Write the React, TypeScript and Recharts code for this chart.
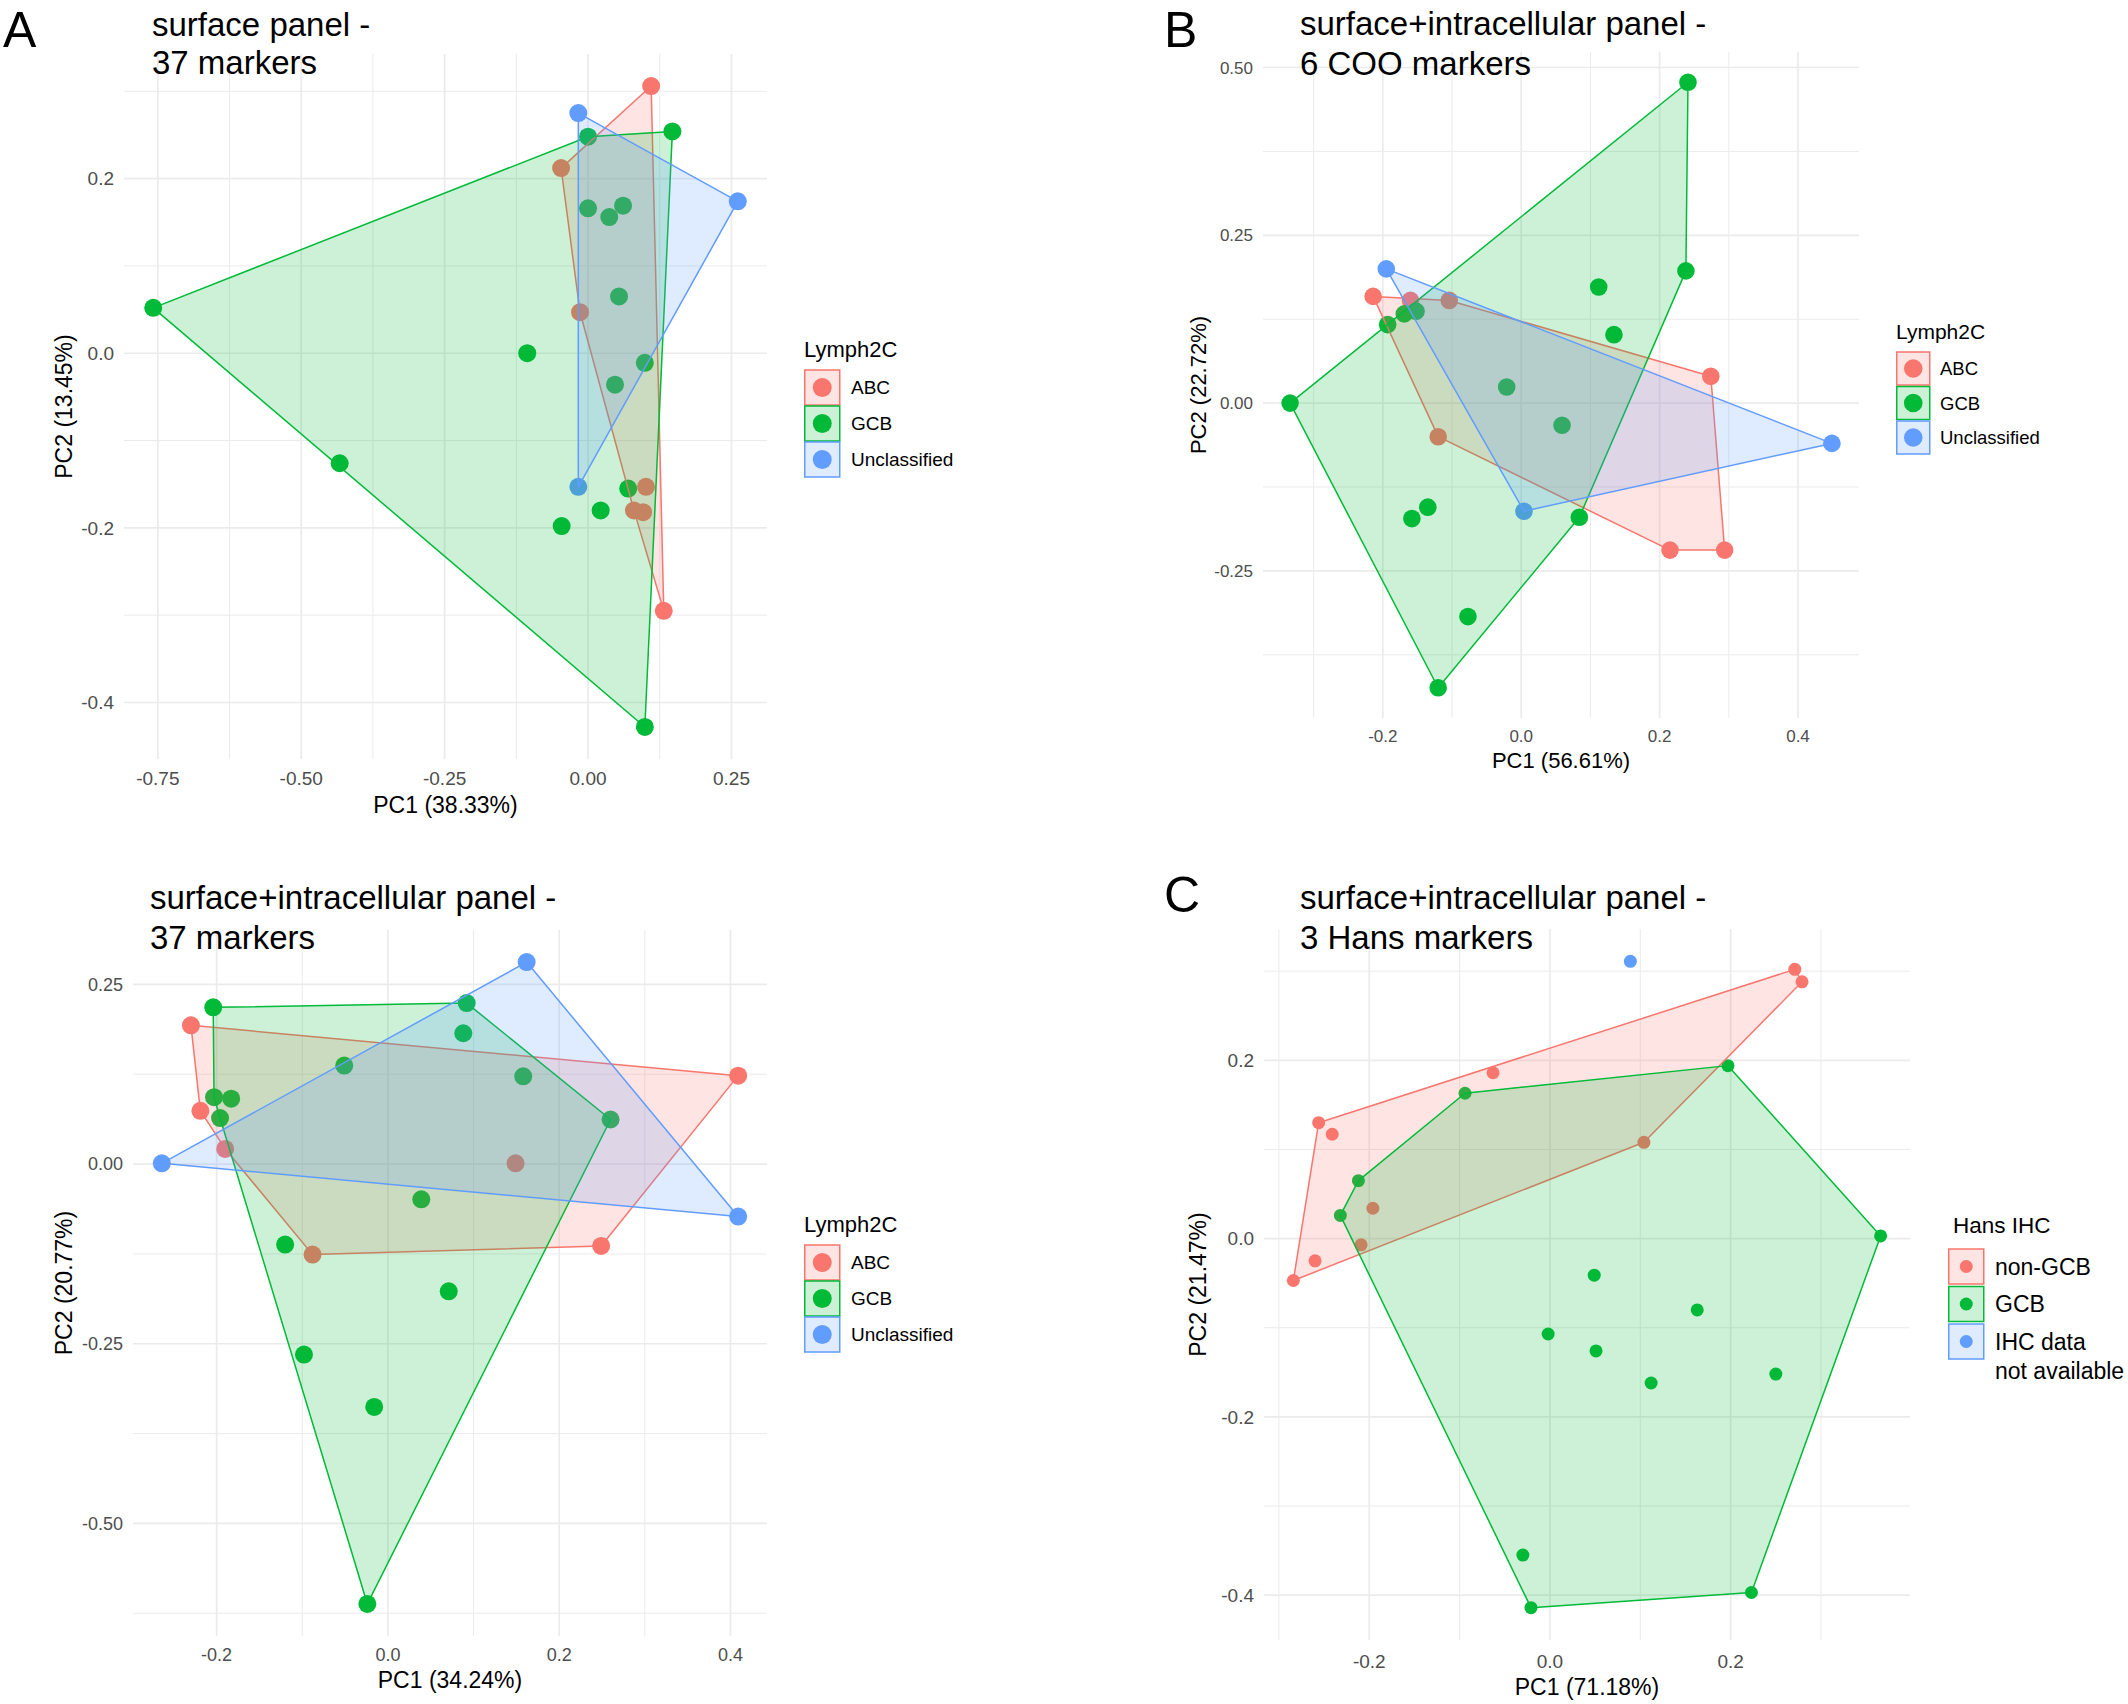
import React from 'react';
import { ScatterChart, Scatter, XAxis, YAxis, CartesianGrid, Legend } from 'recharts';

const RED = '#F8766D';
const GREEN = '#00BA38';
const BLUE = '#619CFF';
const FONT = '"Liberation Sans", Arial, Helvetica, sans-serif';
const GRID = '#EBEBEB';

type Pt = { x: number; y: number };

// A: surface panel - 37 markers (Lymph2C)
const surfAbc: Pt[] = [
  { x: 0.110, y: 0.306 }, { x: -0.047, y: 0.212 }, { x: -0.014, y: 0.047 }, { x: 0.101, y: -0.153 },
  { x: 0.080, y: -0.180 }, { x: 0.096, y: -0.182 }, { x: 0.132, y: -0.295 },
];
const surfGcb: Pt[] = [
  { x: -0.758, y: 0.052 }, { x: 0.000, y: 0.248 }, { x: 0.147, y: 0.254 }, { x: 0.000, y: 0.166 },
  { x: 0.037, y: 0.156 }, { x: 0.061, y: 0.169 }, { x: 0.054, y: 0.065 }, { x: -0.106, y: 0.000 },
  { x: 0.099, y: -0.011 }, { x: 0.047, y: -0.036 }, { x: -0.433, y: -0.126 }, { x: 0.070, y: -0.155 },
  { x: 0.022, y: -0.180 }, { x: -0.046, y: -0.198 }, { x: 0.099, y: -0.428 },
];
const surfUnc: Pt[] = [{ x: -0.017, y: 0.275 }, { x: 0.261, y: 0.174 }, { x: -0.017, y: -0.153 }];
const surfXTicks = [-0.75, -0.5, -0.25, 0, 0.25];
const surfXLabels = ['-0.75', '-0.50', '-0.25', '0.00', '0.25'];
const surfXMinor = [-0.625, -0.375, -0.125, 0.125];
const surfYTicks = [-0.4, -0.2, 0, 0.2];
const surfYLabels = ['-0.4', '-0.2', '0.0', '0.2'];
const surfYMinor = [-0.3, -0.1, 0.1, 0.3];

// B: surface+intracellular panel - 6 COO markers (Lymph2C)
const cooAbc: Pt[] = [
  { x: -0.214, y: 0.159 }, { x: -0.160, y: 0.153 }, { x: -0.104, y: 0.153 }, { x: -0.120, y: -0.050 },
  { x: 0.274, y: 0.040 }, { x: 0.215, y: -0.219 }, { x: 0.294, y: -0.219 },
];
const cooGcb: Pt[] = [
  { x: -0.334, y: 0.000 }, { x: 0.241, y: 0.478 }, { x: 0.238, y: 0.197 }, { x: 0.112, y: 0.173 },
  { x: 0.134, y: 0.102 }, { x: -0.193, y: 0.117 }, { x: -0.169, y: 0.133 }, { x: -0.152, y: 0.137 },
  { x: -0.021, y: 0.024 }, { x: 0.059, y: -0.033 }, { x: -0.135, y: -0.155 }, { x: -0.158, y: -0.172 },
  { x: 0.084, y: -0.170 }, { x: -0.077, y: -0.318 }, { x: -0.120, y: -0.424 },
];
const cooUnc: Pt[] = [{ x: -0.195, y: 0.200 }, { x: 0.449, y: -0.060 }, { x: 0.004, y: -0.161 }];
const cooXTicks = [-0.2, 0, 0.2, 0.4];
const cooXLabels = ['-0.2', '0.0', '0.2', '0.4'];
const cooXMinor = [-0.3, -0.1, 0.1, 0.3];
const cooYTicks = [-0.25, 0, 0.25, 0.5];
const cooYLabels = ['-0.25', '0.00', '0.25', '0.50'];
const cooYMinor = [-0.375, -0.125, 0.125, 0.375];

// surface+intracellular panel - 37 markers (Lymph2C)
const allAbc: Pt[] = [
  { x: -0.230, y: 0.193 }, { x: -0.219, y: 0.074 }, { x: -0.190, y: 0.021 }, { x: -0.088, y: -0.126 },
  { x: 0.149, y: 0.001 }, { x: 0.249, y: -0.114 }, { x: 0.409, y: 0.123 },
];
const allGcb: Pt[] = [
  { x: -0.204, y: 0.218 }, { x: 0.092, y: 0.224 }, { x: 0.088, y: 0.182 }, { x: -0.051, y: 0.137 },
  { x: 0.158, y: 0.122 }, { x: -0.203, y: 0.093 }, { x: -0.183, y: 0.091 }, { x: -0.196, y: 0.064 },
  { x: 0.260, y: 0.062 }, { x: 0.039, y: -0.049 }, { x: -0.120, y: -0.112 }, { x: 0.071, y: -0.177 },
  { x: -0.098, y: -0.265 }, { x: -0.016, y: -0.338 }, { x: -0.024, y: -0.612 },
];
const allUnc: Pt[] = [{ x: -0.264, y: 0.001 }, { x: 0.162, y: 0.281 }, { x: 0.409, y: -0.073 }];
const allXTicks = [-0.2, 0, 0.2, 0.4];
const allXLabels = ['-0.2', '0.0', '0.2', '0.4'];
const allXMinor = [-0.1, 0.1, 0.3];
const allYTicks = [-0.5, -0.25, 0, 0.25];
const allYLabels = ['-0.50', '-0.25', '0.00', '0.25'];
const allYMinor = [-0.625, -0.375, -0.125, 0.125];

// C: surface+intracellular panel - 3 Hans markers (Hans IHC)
const hansNonGcb: Pt[] = [
  { x: 0.271, y: 0.302 }, { x: 0.279, y: 0.288 }, { x: -0.063, y: 0.186 }, { x: -0.256, y: 0.130 },
  { x: -0.241, y: 0.117 }, { x: 0.104, y: 0.108 }, { x: -0.196, y: 0.034 }, { x: -0.209, y: -0.007 },
  { x: -0.260, y: -0.025 }, { x: -0.284, y: -0.047 },
];
const hansGcb: Pt[] = [
  { x: -0.094, y: 0.163 }, { x: 0.197, y: 0.194 }, { x: -0.212, y: 0.065 }, { x: -0.232, y: 0.026 },
  { x: 0.366, y: 0.003 }, { x: 0.049, y: -0.041 }, { x: 0.163, y: -0.080 }, { x: -0.002, y: -0.107 },
  { x: 0.051, y: -0.126 }, { x: 0.112, y: -0.162 }, { x: 0.250, y: -0.152 }, { x: -0.030, y: -0.355 },
  { x: -0.021, y: -0.414 }, { x: 0.223, y: -0.397 },
];
const hansNa: Pt[] = [{ x: 0.089, y: 0.311 }];
const hansXTicks = [-0.2, 0, 0.2];
const hansXLabels = ['-0.2', '0.0', '0.2'];
const hansXMinor = [-0.3, -0.1, 0.1, 0.3];
const hansYTicks = [-0.4, -0.2, 0, 0.2];
const hansYLabels = ['-0.4', '-0.2', '0.0', '0.2'];
const hansYMinor = [-0.3, -0.1, 0.1, 0.3];

// convex hull (monotone chain)
function hull(pts: Pt[]): Pt[] {
  const p = [...pts].sort((a, b) => a.x - b.x || a.y - b.y);
  if (p.length < 3) return [];
  const cross = (o: Pt, a: Pt, b: Pt) => (a.x - o.x) * (b.y - o.y) - (a.y - o.y) * (b.x - o.x);
  const lower: Pt[] = [];
  for (const q of p) {
    while (lower.length >= 2 && cross(lower[lower.length - 2], lower[lower.length - 1], q) <= 0) lower.pop();
    lower.push(q);
  }
  const upper: Pt[] = [];
  for (const q of [...p].reverse()) {
    while (upper.length >= 2 && cross(upper[upper.length - 2], upper[upper.length - 1], q) <= 0) upper.pop();
    upper.push(q);
  }
  lower.pop();
  upper.pop();
  return lower.concat(upper);
}

// ggplot-like 5% expansion
function expand(vals: number[]): [number, number] {
  const lo = Math.min(...vals);
  const hi = Math.max(...vals);
  const pad = (hi - lo) * 0.05;
  return [lo - pad, hi + pad];
}

const panels = [
  {
    key: 'A', letter: 'A', letterX: 3, letterY: 47,
    title: ['surface panel -', '37 markers'], titleX: 152, titleY: [36, 74],
    box: { x: 0, y: 0, w: 1064, h: 852 }, plot: { l: 124, t: 54, r: 767, b: 759 },
    groups: [
      { name: 'ABC', lines: ['ABC'], color: RED, points: surfAbc },
      { name: 'GCB', lines: ['GCB'], color: GREEN, points: surfGcb },
      { name: 'Unclassified', lines: ['Unclassified'], color: BLUE, points: surfUnc },
    ],
    xTicks: surfXTicks, xLabels: surfXLabels, xMinor: surfXMinor,
    yTicks: surfYTicks, yLabels: surfYLabels, yMinor: surfYMinor,
    xTitle: 'PC1 (38.33%)', yTitle: 'PC2 (13.45%)', xTitleOff: 46, yTitleOff: 60,
    dotR: 9, tickSize: 19, titleSize: 23, xTickGap: 13,
    legend: { x: 804, y: 333, title: 'Lymph2C', titleSize: 22, labelSize: 19, key: 35, pitch: 36, keyTop: 37, labelX: 47, dotR: 9.5, titleX: 0 },
  },
  {
    key: 'B', letter: 'B', letterX: 1164, letterY: 47,
    title: ['surface+intracellular panel -', '6 COO markers'], titleX: 1300, titleY: [35, 75],
    box: { x: 1064, y: 0, w: 1064, h: 852 }, plot: { l: 1263, t: 52, r: 1859, b: 718 },
    groups: [
      { name: 'ABC', lines: ['ABC'], color: RED, points: cooAbc },
      { name: 'GCB', lines: ['GCB'], color: GREEN, points: cooGcb },
      { name: 'Unclassified', lines: ['Unclassified'], color: BLUE, points: cooUnc },
    ],
    xTicks: cooXTicks, xLabels: cooXLabels, xMinor: cooXMinor,
    yTicks: cooYTicks, yLabels: cooYLabels, yMinor: cooYMinor,
    xTitle: 'PC1 (56.61%)', yTitle: 'PC2 (22.72%)', xTitleOff: 42, yTitleOff: 65,
    dotR: 8.8, tickSize: 17, titleSize: 22, xTickGap: 12,
    legend: { x: 1896, y: 315, title: 'Lymph2C', titleSize: 21, labelSize: 18.5, key: 33, pitch: 34.5, keyTop: 37, labelX: 44, dotR: 9.3, titleX: 0 },
  },
  {
    key: 'BL', letter: '', letterX: 0, letterY: 0,
    title: ['surface+intracellular panel -', '37 markers'], titleX: 150, titleY: [909, 949],
    box: { x: 0, y: 852, w: 1064, h: 852 }, plot: { l: 133, t: 930, r: 767, b: 1636 },
    groups: [
      { name: 'ABC', lines: ['ABC'], color: RED, points: allAbc },
      { name: 'GCB', lines: ['GCB'], color: GREEN, points: allGcb },
      { name: 'Unclassified', lines: ['Unclassified'], color: BLUE, points: allUnc },
    ],
    xTicks: allXTicks, xLabels: allXLabels, xMinor: allXMinor,
    yTicks: allYTicks, yLabels: allYLabels, yMinor: allYMinor,
    xTitle: 'PC1 (34.24%)', yTitle: 'PC2 (20.77%)', xTitleOff: 44, yTitleOff: 69,
    dotR: 9, tickSize: 18, titleSize: 23, xTickGap: 12,
    legend: { x: 804, y: 1208, title: 'Lymph2C', titleSize: 22, labelSize: 19, key: 35, pitch: 36, keyTop: 37, labelX: 47, dotR: 9.5, titleX: 0 },
  },
  {
    key: 'C', letter: 'C', letterX: 1164, letterY: 912,
    title: ['surface+intracellular panel -', '3 Hans markers'], titleX: 1300, titleY: [909, 949],
    box: { x: 1064, y: 852, w: 1064, h: 852 }, plot: { l: 1264, t: 929, r: 1910, b: 1640 },
    groups: [
      { name: 'non-GCB', lines: ['non-GCB'], color: RED, points: hansNonGcb },
      { name: 'GCB', lines: ['GCB'], color: GREEN, points: hansGcb },
      { name: 'IHC data not available', lines: ['IHC data', 'not available'], color: BLUE, points: hansNa },
    ],
    xTicks: hansXTicks, xLabels: hansXLabels, xMinor: hansXMinor,
    yTicks: hansYTicks, yLabels: hansYLabels, yMinor: hansYMinor,
    xTitle: 'PC1 (71.18%)', yTitle: 'PC2 (21.47%)', xTitleOff: 47, yTitleOff: 66,
    dotR: 6.5, tickSize: 19, titleSize: 23, xTickGap: 15,
    legend: { x: 1948, y: 1209, title: 'Hans IHC', titleSize: 22.5, labelSize: 23, key: 35, pitch: 37.5, keyTop: 40, labelX: 47, dotR: 6.5, titleX: 5 },
  },
];

function LegendBlock({ cfg }: any) {
  const L = cfg.legend;
  return (
    <svg width={230} height={190} style={{ display: 'block', overflow: 'visible' }}>
      <text x={L.titleX} y={24} fontSize={L.titleSize} fontFamily={FONT} fill="#000">{L.title}</text>
      {cfg.groups.map((g: any, i: number) => {
        const top = L.keyTop + i * L.pitch;
        const mid = top + L.key / 2;
        return (
          <g key={g.name}>
            <rect x={0.75} y={top} width={L.key} height={L.key} fill={g.color} fillOpacity={0.2} stroke={g.color} strokeWidth={1.5} />
            <circle cx={0.75 + L.key / 2} cy={mid} r={L.dotR} fill={g.color} />
            {g.lines.map((line: string, j: number) => (
              <text key={line} x={L.labelX} y={mid + L.labelSize * 0.36 + j * 29} fontSize={L.labelSize} fontFamily={FONT} fill="#000">
                {line}
              </text>
            ))}
          </g>
        );
      })}
    </svg>
  );
}

function PcaPanel({ cfg }: any) {
  const { box, plot } = cfg;
  const all = cfg.groups.flatMap((g: any) => g.points);
  const xDomain = expand(all.map((p: Pt) => p.x));
  const yDomain = expand(all.map((p: Pt) => p.y));
  const tickStyle = { fill: '#4D4D4D', fontSize: cfg.tickSize, fontFamily: FONT };
  const xFmt = (v: number) => cfg.xLabels[cfg.xTicks.indexOf(v)] ?? '';
  const yFmt = (v: number) => cfg.yLabels[cfg.yTicks.indexOf(v)] ?? '';

  return (
    <div style={{ position: 'absolute', left: box.x, top: box.y }}>
      <ScatterChart
        width={box.w}
        height={box.h}
        margin={{ top: plot.t - box.y, right: box.x + box.w - plot.r, bottom: 0, left: 0 }}
      >
        <XAxis xAxisId="minor" type="number" dataKey="x" domain={xDomain} ticks={cfg.xMinor} allowDataOverflow hide />
        <YAxis yAxisId="minor" type="number" dataKey="y" domain={yDomain} ticks={cfg.yMinor} allowDataOverflow hide />
        <CartesianGrid xAxisId="minor" yAxisId="minor" stroke={GRID} strokeWidth={1} syncWithTicks />
        <CartesianGrid stroke={GRID} strokeWidth={1.7} syncWithTicks />
        <XAxis
          type="number"
          dataKey="x"
          domain={xDomain}
          ticks={cfg.xTicks}
          interval={0}
          allowDataOverflow
          tickFormatter={xFmt}
          axisLine={false}
          tickLine={false}
          tickSize={0}
          tickMargin={cfg.xTickGap}
          tick={tickStyle}
          height={box.y + box.h - plot.b}
          label={(p: any) => (
            <text
              x={p.viewBox.x + p.viewBox.width / 2}
              y={p.viewBox.y + cfg.xTitleOff}
              textAnchor="middle"
              dominantBaseline="central"
              fontSize={cfg.titleSize}
              fontFamily={FONT}
              fill="#000"
            >
              {cfg.xTitle}
            </text>
          )}
        />
        <YAxis
          type="number"
          dataKey="y"
          domain={yDomain}
          ticks={cfg.yTicks}
          interval={0}
          allowDataOverflow
          tickFormatter={yFmt}
          axisLine={false}
          tickLine={false}
          tickSize={0}
          tickMargin={10}
          tick={tickStyle}
          width={plot.l - box.x}
          label={(p: any) => {
            const cx = p.viewBox.x + p.viewBox.width - cfg.yTitleOff;
            const cy = p.viewBox.y + p.viewBox.height / 2;
            return (
              <text
                x={cx}
                y={cy}
                transform={`rotate(-90, ${cx}, ${cy})`}
                textAnchor="middle"
                dominantBaseline="central"
                fontSize={cfg.titleSize}
                fontFamily={FONT}
                fill="#000"
              >
                {cfg.yTitle}
              </text>
            );
          }}
        />
        {cfg.groups.map((g: any) => (
          <Scatter
            key={`pts-${g.name}`}
            name={g.name}
            data={g.points}
            fill={g.color}
            isAnimationActive={false}
            shape={(s: any) => <circle cx={s.cx} cy={s.cy} r={cfg.dotR} fill={g.color} />}
          />
        ))}
        {cfg.groups.map((g: any) => (
          <Scatter
            key={`hull-${g.name}`}
            name={`${g.name} hull`}
            data={hull(g.points)}
            legendType="none"
            isAnimationActive={false}
            shape={() => <g />}
            line={(lp: any) => (
              <polygon
                points={(lp.points || []).map((q: any) => `${q.x},${q.y}`).join(' ')}
                fill={g.color}
                fillOpacity={0.2}
                stroke={g.color}
                strokeWidth={1.5}
                strokeLinejoin="round"
              />
            )}
          />
        ))}
        <Legend
          layout="vertical"
          align="center"
          verticalAlign="middle"
          content={() => <LegendBlock cfg={cfg} />}
          wrapperStyle={{ left: cfg.legend.x - box.x, top: cfg.legend.y - box.y, width: 230, height: 190 }}
        />
      </ScatterChart>
    </div>
  );
}

export default function App() {
  return (
    <div style={{ position: 'relative', width: 2128, height: 1704, background: '#fff', overflow: 'hidden' }}>
      <style>{'body { margin: 0; }'}</style>
      {panels.map((cfg) => (
        <PcaPanel key={cfg.key} cfg={cfg} />
      ))}
      <svg width={2128} height={1704} style={{ position: 'absolute', left: 0, top: 0, pointerEvents: 'none' }}>
        {panels.map((cfg) => (
          <g key={cfg.key} fontFamily={FONT} fill="#000">
            {cfg.letter && (
              <text x={cfg.letterX} y={cfg.letterY} fontSize={50}>{cfg.letter}</text>
            )}
            {cfg.title.map((line, i) => (
              <text key={line} x={cfg.titleX} y={cfg.titleY[i]} fontSize={33}>{line}</text>
            ))}
          </g>
        ))}
      </svg>
    </div>
  );
}
